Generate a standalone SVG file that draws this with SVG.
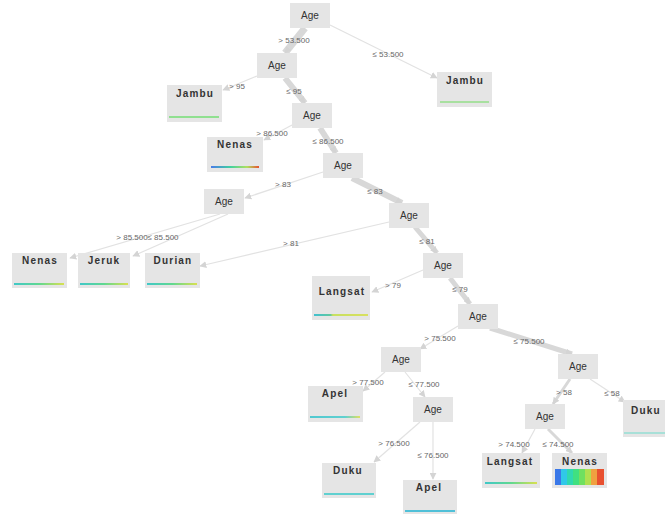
<svg xmlns="http://www.w3.org/2000/svg" width="665" height="515" viewBox="0 0 665 515">
<style>
.n rect{fill:#e5e5e5}
.n text{font-family:"Liberation Sans",Arial,sans-serif;font-size:10px;fill:#333;text-anchor:middle}
.leaf text{font-weight:bold;letter-spacing:1.2px}
.e{fill:none;stroke:#e2e2e2;stroke-width:1.2;marker-end:url(#ah)}
.t{stroke:#d8d8d8}
.l{font-family:"Liberation Sans",Arial,sans-serif;font-size:8px;fill:#666;text-anchor:middle}
.n rect.bar{height:2px}
</style>
<defs>
<marker id="ah" viewBox="0 0 10 10" refX="9" refY="5" markerWidth="7" markerHeight="7" markerUnits="userSpaceOnUse" orient="auto"><path d="M0,0L10,5L0,10z" fill="#d4d4d4"/></marker>
<linearGradient id="gNen1"><stop offset="0" stop-color="#4a7be8"/><stop offset="0.4" stop-color="#40d0a0"/><stop offset="0.75" stop-color="#b0e060"/><stop offset="1" stop-color="#e85030"/></linearGradient>
<linearGradient id="gTY"><stop offset="0" stop-color="#40c8c8"/><stop offset="0.5" stop-color="#60d890"/><stop offset="1" stop-color="#d8e050"/></linearGradient>
<linearGradient id="gLang"><stop offset="0" stop-color="#40c0d0"/><stop offset="0.3" stop-color="#60c8a0"/><stop offset="0.35" stop-color="#c8e060"/><stop offset="1" stop-color="#d8e060"/></linearGradient>
<linearGradient id="gApel"><stop offset="0" stop-color="#50c8d0"/><stop offset="0.7" stop-color="#60d0d0"/><stop offset="1" stop-color="#e0e060"/></linearGradient>
</defs>
<g id="connectors">
<path class="e t" d="M305,28 L285,53" style="stroke-width:7"/>
<path class="e" d="M330,25 L437,78"/>
<path class="e" d="M257,76 L223,90"/>
<path class="e t" d="M285,78 L305,103" style="stroke-width:6"/>
<path class="e" d="M292,125 L264,140"/>
<path class="e t" d="M320,128 L336,153" style="stroke-width:6"/>
<path class="e" d="M323,172 L245,198"/>
<path class="e t" d="M352,178 L402,203" style="stroke-width:6"/>
<path class="e" d="M220,214 L70,258"/>
<path class="e" d="M228,214 L133,256"/>
<path class="e" d="M389,222 L200,266"/>
<path class="e t" d="M415,227 L437,253" style="stroke-width:5"/>
<path class="e" d="M423,270 L372,292"/>
<path class="e t" d="M450,278 L470,304" style="stroke-width:5"/>
<path class="e" d="M458,326 L420,349"/>
<path class="e t" d="M490,328 L572,354" style="stroke-width:5"/>
<path class="e" d="M385,372 L363,391"/>
<path class="e" d="M405,372 L425,397"/>
<path class="e" d="M420,422 L374,462"/>
<path class="e" d="M433,422 L433,479"/>
<path class="e t" d="M570,379 L553,404" style="stroke-width:3"/>
<path class="e" d="M590,379 L625,402"/>
<path class="e" d="M535,429 L522,453"/>
<path class="e t" d="M548,429 L572,453" style="stroke-width:3"/>
<text class="l" x="294" y="43">&gt; 53.500</text>
<text class="l" x="388" y="57">≤ 53.500</text>
<text class="l" x="237" y="89">&gt; 95</text>
<text class="l" x="294" y="94">≤ 95</text>
<text class="l" x="272" y="136">&gt; 86.500</text>
<text class="l" x="328" y="144">≤ 86.500</text>
<text class="l" x="283" y="187">&gt; 83</text>
<text class="l" x="375" y="194">≤ 83</text>
<text class="l" x="132" y="240">&gt; 85.500</text>
<text class="l" x="163" y="240">≤ 85.500</text>
<text class="l" x="291" y="246">&gt; 81</text>
<text class="l" x="427" y="244">≤ 81</text>
<text class="l" x="393" y="288">&gt; 79</text>
<text class="l" x="460" y="292">≤ 79</text>
<text class="l" x="440" y="341">&gt; 75.500</text>
<text class="l" x="529" y="344">≤ 75.500</text>
<text class="l" x="368" y="385">&gt; 77.500</text>
<text class="l" x="424" y="387">≤ 77.500</text>
<text class="l" x="394" y="446">&gt; 76.500</text>
<text class="l" x="433" y="458">≤ 76.500</text>
<text class="l" x="564" y="395">&gt; 58</text>
<text class="l" x="612" y="396">≤ 58</text>
<text class="l" x="514" y="447">&gt; 74.500</text>
<text class="l" x="558" y="447">≤ 74.500</text>
</g>
<g id="n0" class="n"><rect x="290" y="3" width="40" height="25"/><text x="310" y="19">Age</text></g>
<g id="n1" class="n"><rect x="257" y="53" width="40" height="25"/><text x="277" y="69">Age</text></g>
<g id="n2" class="n leaf"><rect x="437" y="72" width="55" height="35"/><text x="465" y="84">Jambu</text><rect class="bar" x="440" y="101" width="49" style="fill:#a8e0a0"/></g>
<g id="n3" class="n leaf"><rect x="167" y="85" width="55" height="37"/><text x="195" y="97">Jambu</text><rect class="bar" x="169" y="116" width="50" style="fill:#90e090"/></g>
<g id="n4" class="n"><rect x="292" y="103" width="40" height="25"/><text x="312" y="119">Age</text></g>
<g id="n5" class="n leaf"><rect x="207" y="137" width="56" height="35"/><text x="235" y="148">Nenas</text><rect class="bar" x="211" y="166" width="48" style="fill:url(#gNen1)"/></g>
<g id="n6" class="n"><rect x="323" y="153" width="40" height="25"/><text x="343" y="169">Age</text></g>
<g id="n7" class="n"><rect x="204" y="189" width="40" height="25"/><text x="224" y="205">Age</text></g>
<g id="n8" class="n"><rect x="389" y="203" width="40" height="25"/><text x="409" y="219">Age</text></g>
<g id="n9" class="n leaf"><rect x="12" y="253" width="55" height="35"/><text x="40" y="264">Nenas</text><rect class="bar" x="14" y="283" width="50" style="fill:url(#gTY)"/></g>
<g id="n10" class="n leaf"><rect x="78" y="253" width="52" height="35"/><text x="104" y="264">Jeruk</text><rect class="bar" x="80" y="283" width="48" style="fill:url(#gTY)"/></g>
<g id="n11" class="n leaf"><rect x="145" y="253" width="55" height="35"/><text x="173" y="264">Durian</text><rect class="bar" x="147" y="283" width="50" style="fill:url(#gTY)"/></g>
<g id="n12" class="n"><rect x="423" y="253" width="40" height="25"/><text x="443" y="269">Age</text></g>
<g id="n13" class="n leaf"><rect x="312" y="276" width="58" height="44"/><text x="342" y="295">Langsat</text><rect class="bar" x="314" y="314" width="54" style="fill:url(#gLang)"/></g>
<g id="n14" class="n"><rect x="458" y="304" width="40" height="25"/><text x="478" y="320">Age</text></g>
<g id="n15" class="n"><rect x="381" y="347" width="40" height="25"/><text x="401" y="363">Age</text></g>
<g id="n16" class="n"><rect x="558" y="354" width="40" height="25"/><text x="578" y="370">Age</text></g>
<g id="n17" class="n leaf"><rect x="308" y="386" width="55" height="36"/><text x="335" y="397">Apel</text><rect class="bar" x="310" y="416" width="50" style="fill:url(#gApel)"/></g>
<g id="n18" class="n"><rect x="413" y="397" width="40" height="25"/><text x="433" y="413">Age</text></g>
<g id="n19" class="n"><rect x="525" y="404" width="40" height="25"/><text x="545" y="420">Age</text></g>
<g id="n20" class="n leaf"><rect x="623" y="400" width="45" height="37"/><text x="646" y="414">Duku</text><rect class="bar" x="624" y="432" width="41" style="fill:#a8e0d8"/></g>
<g id="n21" class="n leaf"><rect x="322" y="463" width="54" height="35"/><text x="348" y="474">Duku</text><rect class="bar" x="324" y="493" width="50" style="fill:#60d0d0"/></g>
<g id="n22" class="n leaf"><rect x="403" y="480" width="54" height="34"/><text x="429" y="491">Apel</text><rect class="bar" x="405" y="510" width="50" style="fill:#50c0d8"/></g>
<g id="n23" class="n leaf"><rect x="482" y="453" width="58" height="35"/><text x="510" y="465">Langsat</text><rect class="bar" x="485" y="482" width="52" style="fill:url(#gTY)"/></g>
<g id="n24" class="n leaf"><rect x="552" y="453" width="55" height="35"/><text x="580" y="465">Nenas</text>
<rect x="555" y="469" width="6" height="16" style="fill:#3a78e8"/><rect x="561" y="469" width="6" height="16" style="fill:#30c8e8"/><rect x="567" y="469" width="6" height="16" style="fill:#30d8b0"/><rect x="573" y="469" width="6" height="16" style="fill:#40e080"/><rect x="579" y="469" width="6" height="16" style="fill:#70e060"/><rect x="585" y="469" width="6" height="16" style="fill:#b0e050"/><rect x="591" y="469" width="6" height="16" style="fill:#f0a040"/><rect x="597" y="469" width="7" height="16" style="fill:#e85030"/></g>
</svg>
